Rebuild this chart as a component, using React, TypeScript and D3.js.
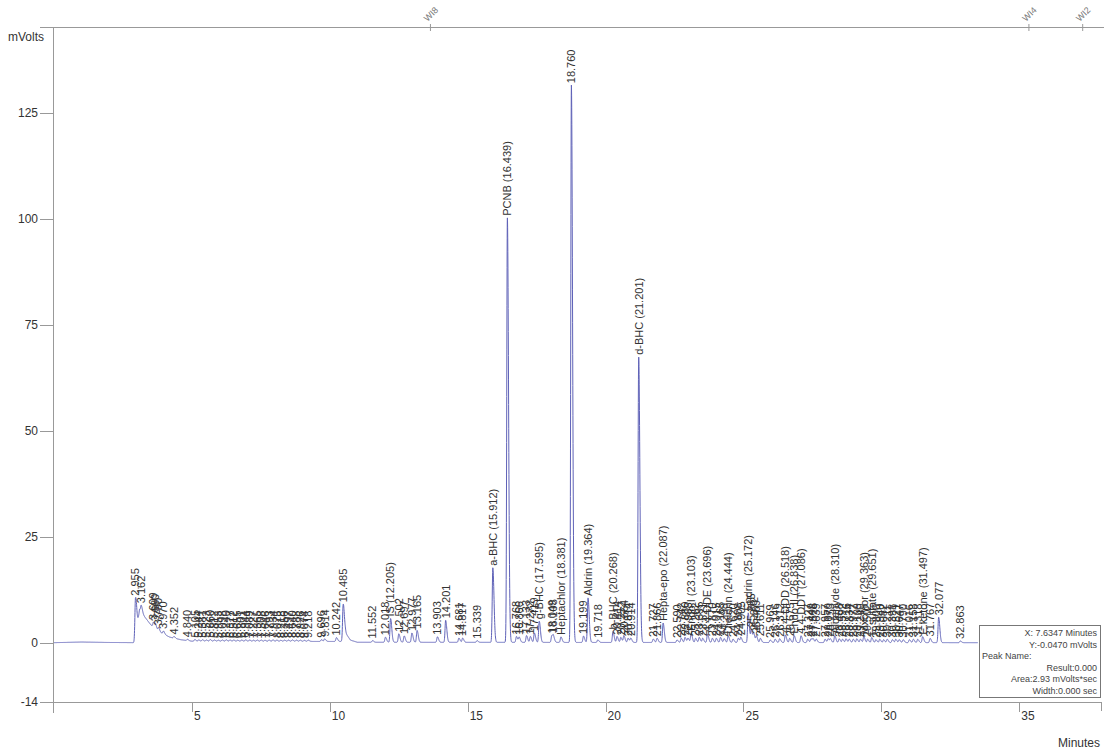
import React from "react";
import * as d3 from "d3";

// ---- data ----
const peakTimes = [
  2.955, 3.162, 3.609, 3.68, 3.79, 3.97, 4.352, 4.84,
  5.105, 5.244, 5.381, 5.523, 5.66, 5.812, 5.953, 6.098, 6.24, 6.377, 6.512, 6.655, 6.801, 6.944, 7.089, 7.227,
  7.365, 7.508, 7.646, 7.793, 7.934, 8.075, 8.218, 8.356, 8.497, 8.64, 8.788, 8.926, 9.074, 9.218,
  9.696, 9.814, 10.242, 10.485, 11.552, 12.018, 12.205, 12.502, 12.697, 12.977, 13.165, 13.903, 14.201,
  14.681, 14.817, 15.339, 15.912, 16.439, 16.768, 16.866, 17.133, 17.272, 17.419, 17.595, 18.049, 18.108,
  18.381, 18.76, 19.199, 19.364, 19.718, 20.268, 20.414, 20.552, 20.664, 20.814, 20.914, 21.201, 21.727,
  21.866, 22.087, 22.59, 22.742, 22.88, 22.988, 23.103, 23.262, 23.395, 23.521, 23.696, 23.87, 24.015,
  24.165, 24.298, 24.444, 24.62, 24.808, 24.905, 25.172, 25.285, 25.372, 25.469, 25.611, 25.969, 26.146,
  26.312, 26.518, 26.675, 26.838, 27.086, 27.327, 27.449, 27.526, 27.639, 27.957, 28.07, 28.153, 28.31,
  28.468, 28.592, 28.716, 28.834, 28.977, 29.109, 29.24, 29.363, 29.502, 29.651, 29.8, 29.94, 30.082,
  30.211, 30.398, 30.521, 30.647, 30.79, 31.016, 31.158, 31.318, 31.497, 31.767, 32.077, 32.863,
];
const peakHeights = [
  10.2, 1.6, 1.2, 1.0, 0.9, 0.7, 0.4, 0.3,
  0.4, 0.3, 0.35, 0.3, 0.4, 0.3, 0.25, 0.3, 0.35, 0.3, 0.3, 0.25, 0.3, 0.35, 0.3, 0.25,
  0.3, 0.3, 0.25, 0.3, 0.35, 0.3, 0.25, 0.3, 0.3, 0.35, 0.3, 0.3, 0.25, 0.3,
  0.4, 0.6, 0.9, 8.4, 0.4, 1.2, 5.6, 2.0, 1.5, 2.2, 2.8, 1.3, 5.2,
  1.0, 1.0, 0.4, 17.6, 100.2, 1.4, 1.2, 1.6, 1.4, 2.2, 5.0, 1.6, 1.2,
  1.3, 131.5, 1.5, 10.5, 0.6, 2.6, 1.4, 1.2, 1.6, 1.0, 1.0, 67.4, 0.8,
  1.0, 4.6, 0.6, 1.0, 1.2, 1.0, 2.2, 1.0, 1.2, 1.0, 2.0, 1.0, 1.0,
  1.2, 0.9, 1.6, 0.8, 1.0, 1.2, 7.0, 3.0, 2.0, 1.5, 1.0, 0.6, 0.8,
  0.9, 1.8, 1.0, 1.6, 1.6, 0.8, 0.9, 0.8, 0.8, 0.8, 0.9, 0.8, 1.6,
  0.9, 0.8, 0.9, 0.8, 0.8, 0.9, 0.8, 1.4, 0.8, 1.2, 0.7, 0.8, 0.7,
  0.8, 0.7, 0.8, 0.7, 0.7, 0.7, 0.8, 0.8, 1.4, 1.0, 6.0, 0.4,
];
const peakNames: Record<string, string> = {
  "12.205": "IS",
  "15.912": "a-BHC",
  "16.439": "PCNB",
  "17.595": "g-BHC",
  "18.381": "Heptachlor",
  "19.364": "Aldrin",
  "20.268": "b-BHC",
  "21.201": "d-BHC",
  "22.087": "Hepta-epo",
  "23.103": "Endo I",
  "23.696": "4,4-DDE",
  "24.444": "Dieldrin",
  "25.172": "Endrin",
  "26.518": "4,4-DDD",
  "26.838": "Endo II",
  "27.086": "4,4-DDT",
  "28.310": "Aldehyde",
  "29.363": "Mxchlor",
  "29.651": "E.sulfate",
  "31.497": "E.ketone",
};
// baseline drift (solvent tail etc.)
const baseTimes = [0, 1.0, 2.0, 2.93, 2.96, 3.1, 3.3, 3.5, 3.8, 4.2, 4.6, 5.0, 9.5, 10.47, 10.56, 10.75, 11.0, 33.5];
const baseValues = [0, 0.15, 0.05, 0, 0.5, 7.8, 6.0, 4.3, 2.6, 1.3, 0.7, 0.35, 0.3, 0.3, 2.4, 0.6, 0.1, 0];

const xTicks = [5, 10, 15, 20, 25, 30, 35];
const yTicks = [125, 100, 75, 50, 25, 0, -14];
const eventTimes = [13.65, 35.35, 37.3];
const eventLabels = ["WI8", "WI4", "WI2"];
const infoLines = ["X: 7.6347 Minutes", "Y:-0.0470 mVolts", "Peak Name:", "Result:0.000", "Area:2.93 mVolts*sec", "Width:0.000 sec"];

const FONT = "'Liberation Sans', Arial, sans-serif";
const TRACE = "#5f62b8";

export default function App() {
  const W = 1105, H = 756;
  const x = d3.scaleLinear().domain([0, 38]).range([54, 1102]);
  const y = d3.scaleLinear().domain([-14, 125]).range([702, 113]);

  const sigma = 0.022, tail = 1.9;
  const base = (t: number) => {
    const i = d3.bisectRight(baseTimes, t);
    if (i <= 0) return baseValues[0];
    if (i >= baseTimes.length) return baseValues[baseValues.length - 1];
    const t0 = baseTimes[i - 1], t1 = baseTimes[i];
    const f = (t - t0) / (t1 - t0);
    return baseValues[i - 1] + f * (baseValues[i] - baseValues[i - 1]);
  };
  const signal = (t: number) => {
    let v = base(t);
    for (let k = 0; k < peakTimes.length; k++) {
      const d = t - peakTimes[k];
      if (d < -0.2 || d > 0.3) continue;
      const s = d < 0 ? sigma : sigma * tail;
      v += peakHeights[k] * Math.exp(-0.5 * (d / s) * (d / s));
    }
    return v;
  };
  const times = d3.range(0, 33.5, 0.004);
  const pts: [number, number][] = times.map((t) => [t, signal(t)]);
  const line = d3.line<[number, number]>().x((d) => x(d[0])).y((d) => y(d[1]));

  const labels = peakTimes.map((t) => {
    const key = t.toFixed(3);
    const name = peakNames[key];
    const text = name ? `${name} (${key})` : key;
    return { t, text, top: signal(t) };
  });

  return (
    <svg width={W} height={H} style={{ position: "absolute", left: 0, top: 0, background: "#fff" }} fontFamily={FONT}>
      {/* frame lines */}
      <line x1={40} x2={1104} y1={27.5} y2={27.5} stroke="#999" />
      <line x1={53.5} x2={53.5} y1={27} y2={713} stroke="#999" />
      <line x1={40} x2={1102} y1={702.5} y2={702.5} stroke="#999" />
      <line x1={1101.5} x2={1101.5} y1={702} y2={711} stroke="#999" />
      <text x={8} y={41} fontSize={12} fill="#333">mVolts</text>
      {yTicks.map((v) => (
        <g key={v}>
          <line x1={40} x2={53} y1={Math.round(y(v)) + 0.5} y2={Math.round(y(v)) + 0.5} stroke="#999" />
          <text x={38} y={y(v) + 4} fontSize={12} fill="#333" textAnchor="end">{v}</text>
        </g>
      ))}
      {xTicks.map((v) => (
        <g key={v}>
          <line x1={Math.round(x(v)) + 0.5} x2={Math.round(x(v)) + 0.5} y1={702} y2={712} stroke="#999" />
          <text x={x(v) + 2} y={720} fontSize={12} fill="#333">{v}</text>
        </g>
      ))}
      <text x={1100} y={747} fontSize={12} fill="#333" textAnchor="end">Minutes</text>
      {eventTimes.map((t, i) => (
        <g key={i}>
          <line x1={x(t)} x2={x(t)} y1={24} y2={31} stroke="#999" />
          <text transform={`translate(${x(t) - 3},${22}) rotate(-45)`} fontSize={9} fill="#777">{eventLabels[i]}</text>
        </g>
      ))}
      {/* trace */}
      <path d={line(pts) || ""} fill="none" stroke={TRACE} strokeWidth={1} />
      {/* peak labels */}
      {labels.map((l, i) => (
        <text
          key={i}
          transform={`translate(${x(l.t)},${y(l.top) - 2}) rotate(-90)`}
          dy="0.35em"
          fontSize={11}
          fill="#333"
        >
          {l.text}
        </text>
      ))}
      {/* info box */}
      <rect x={979.5} y={625.5} width={121} height={72} fill="#fff" stroke="#777" />
      {infoLines.map((s, i) =>
        i === 2 ? (
          <text key={i} x={982} y={636 + i * 11.6} fontSize={9} fill="#444">{s}</text>
        ) : (
          <text key={i} x={1097} y={636 + i * 11.6} fontSize={9} fill="#444" textAnchor="end">{s}</text>
        )
      )}
    </svg>
  );
}
